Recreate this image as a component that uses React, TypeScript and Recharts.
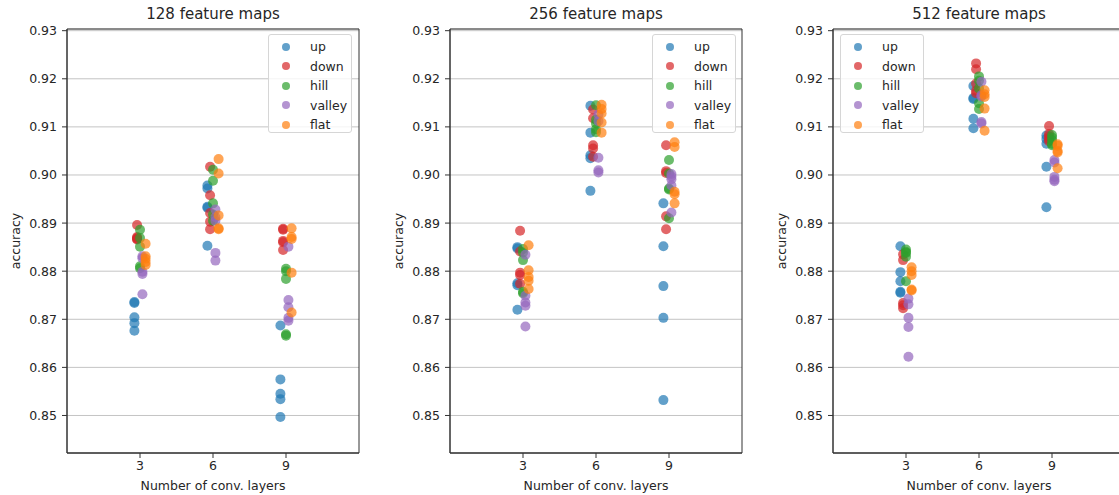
import { ScatterChart, Scatter, XAxis, YAxis, CartesianGrid, ReferenceArea, Legend } from "recharts";

const layers = [3, 6, 9];
const seriesNames = ["up", "down", "hill", "valley", "flat"];
const seriesColors = ["#1f77b4", "#d62728", "#2ca02c", "#9467bd", "#ff7f0e"];
const yTicks = [0.85, 0.86, 0.87, 0.88, 0.89, 0.9, 0.91, 0.92, 0.93];
const panelTitles = ["128 feature maps", "256 feature maps", "512 feature maps"];

// accuracy of each run, one inner list per number of conv. layers (3, 6, 9)
const up128 = [[0.8736, 0.8734, 0.8704, 0.8692, 0.8676], [0.8978, 0.8972, 0.8934, 0.8932, 0.8853], [0.8687, 0.8575, 0.8545, 0.8534, 0.8497]];
const down128 = [[0.8896, 0.8871, 0.8869, 0.8867, 0.8866], [0.9017, 0.8958, 0.8921, 0.8903, 0.8887], [0.8888, 0.8886, 0.8863, 0.886, 0.8844]];
const hill128 = [[0.8886, 0.8869, 0.8851, 0.881, 0.8806], [0.9011, 0.8988, 0.8941, 0.8918, 0.8905], [0.8805, 0.88, 0.8784, 0.8669, 0.8666]];
const valley128 = [[0.8831, 0.8827, 0.8799, 0.8794, 0.8752], [0.8928, 0.8912, 0.8905, 0.8838, 0.8822], [0.8851, 0.874, 0.8725, 0.8703, 0.8697]];
const flat128 = [[0.8857, 0.8831, 0.8826, 0.8819, 0.8813], [0.9033, 0.9003, 0.8916, 0.8889, 0.8887], [0.8889, 0.8871, 0.8867, 0.8797, 0.8714]];

const up256 = [[0.885, 0.8847, 0.8775, 0.8771, 0.872], [0.9144, 0.9088, 0.9041, 0.9035, 0.8967], [0.8941, 0.8852, 0.8769, 0.8703, 0.8532]];
const down256 = [[0.8884, 0.8841, 0.8797, 0.8792, 0.8774], [0.9136, 0.9118, 0.9062, 0.9055, 0.9038], [0.9062, 0.9008, 0.9004, 0.8914, 0.8887]];
const hill256 = [[0.8846, 0.8839, 0.8823, 0.8757, 0.8754], [0.9145, 0.9115, 0.9107, 0.9095, 0.9089], [0.9031, 0.9003, 0.8972, 0.897, 0.891]];
const valley256 = [[0.8834, 0.8749, 0.8735, 0.8728, 0.8685], [0.9126, 0.9112, 0.9036, 0.901, 0.9005], [0.9002, 0.8997, 0.8991, 0.8978, 0.8922]];
const flat256 = [[0.8854, 0.8802, 0.8788, 0.878, 0.8763], [0.9146, 0.9137, 0.9128, 0.9109, 0.9088], [0.9068, 0.9058, 0.8965, 0.896, 0.8941]];

const up512 = [[0.8852, 0.8798, 0.8779, 0.8757, 0.8755], [0.9185, 0.916, 0.9158, 0.9117, 0.9097], [0.9082, 0.9075, 0.9065, 0.9017, 0.8933]];
const down512 = [[0.8835, 0.8823, 0.8734, 0.8729, 0.8723], [0.9232, 0.922, 0.919, 0.9175, 0.917], [0.9102, 0.9085, 0.908, 0.9075, 0.907]];
const hill512 = [[0.8845, 0.884, 0.8838, 0.883, 0.8779], [0.9205, 0.9196, 0.918, 0.9149, 0.9137], [0.9083, 0.9078, 0.9072, 0.9065, 0.9062]];
const valley512 = [[0.8743, 0.8731, 0.8703, 0.8684, 0.8622], [0.9194, 0.9166, 0.9163, 0.911, 0.9107], [0.9031, 0.9026, 0.8996, 0.899, 0.8987]];
const flat512 = [[0.8808, 0.88, 0.8792, 0.8762, 0.876], [0.9176, 0.9168, 0.9162, 0.9138, 0.9092], [0.9064, 0.9061, 0.905, 0.9047, 0.9014]];

const panels = [
  [up128, down128, hill128, valley128, flat128],
  [up256, down256, hill256, valley256, flat256],
  [up512, down512, hill512, valley512, flat512],
];

// small sideways shift per series so the strips don't sit on top of each other
const dodge = [-0.23, -0.12, 0, 0.1, 0.23];

const X_DOMAIN: [number, number] = [0, 12];
const Y_DOMAIN: [number, number] = [0.8422, 0.93035];
const FONT = "DejaVu Sans";
const INK = "#262626";

function toPoints(values: number[][], s: number) {
  return values.flatMap((vals, i) => vals.map((acc) => ({ layer: layers[i] + dodge[s], acc })));
}

function YTitle({ viewBox }: any) {
  const x = (viewBox?.x ?? 0) + 15;
  const y = (viewBox?.y ?? 0) + (viewBox?.height ?? 0) / 2;
  return (
    <text x={x} y={y} transform={`rotate(-90 ${x} ${y})`} textAnchor="middle" dominantBaseline="central"
      fontSize={12.5} fontFamily={FONT} fill={INK}>
      accuracy
    </text>
  );
}

function XTitle({ viewBox }: any) {
  const x = (viewBox?.x ?? 0) + (viewBox?.width ?? 0) / 2;
  const y = (viewBox?.y ?? 0) + 32;
  return (
    <text x={x} y={y} textAnchor="middle" dominantBaseline="central" fontSize={12.5} fontFamily={FONT} fill={INK}>
      Number of conv. layers
    </text>
  );
}

function LegendBox() {
  return (
    <div style={{
      width: 84, height: 99, boxSizing: "border-box", border: "1px solid #d6d6d6", borderRadius: 3,
      background: "rgba(255,255,255,0.8)", paddingTop: 2, fontFamily: FONT, fontSize: 12.5, color: INK,
    }}>
      {seriesNames.map((name, s) => (
        <div key={name} style={{ position: "relative", height: 19.5, lineHeight: "19.5px" }}>
          <svg width={10} height={10} style={{ position: "absolute", left: 12, top: 4.75 }}>
            <circle cx={5} cy={5} r={4} fill={seriesColors[s]} fillOpacity={0.7} />
          </svg>
          <span style={{ position: "absolute", left: 41 }}>{name}</span>
        </div>
      ))}
    </div>
  );
}

function Panel({ idx, left, legendLeft }: { idx: number; left: number; legendLeft: number }) {
  const tick = { fontSize: 12.5, fill: INK, fontFamily: FONT };
  return (
    <div style={{ position: "absolute", left, top: 0, width: 370, height: 495 }}>
      <div style={{
        position: "absolute", left: 67, top: 5, width: 292, textAlign: "center",
        fontSize: 15, lineHeight: "18px", fontFamily: FONT, color: INK,
      }}>
        {panelTitles[idx]}
      </div>
      <ScatterChart width={370} height={495} margin={{ top: 29, right: 11, bottom: 0, left: 0 }}>
        <CartesianGrid vertical={false} stroke="#c4c4c4" />
        <XAxis dataKey="layer" type="number" domain={X_DOMAIN} ticks={layers} allowDataOverflow
          height={42} tick={tick} tickSize={5} tickMargin={3}
          axisLine={{ stroke: "#333" }} tickLine={{ stroke: "#333" }} label={<XTitle />} />
        <YAxis dataKey="acc" type="number" domain={Y_DOMAIN} ticks={yTicks} allowDataOverflow
          width={67} tick={tick} tickSize={5} tickMargin={5} tickFormatter={(v: number) => v.toFixed(2)}
          axisLine={{ stroke: "#333" }} tickLine={{ stroke: "#333" }} label={<YTitle />} />
        <ReferenceArea x1={X_DOMAIN[0]} x2={X_DOMAIN[1]} y1={Y_DOMAIN[0]} y2={Y_DOMAIN[1]}
          fill="none" fillOpacity={0} stroke="#333" strokeOpacity={1} />
        {panels[idx].map((vals, s) => (
          <Scatter key={seriesNames[s]} name={seriesNames[s]} data={toPoints(vals, s)} fill={seriesColors[s]}
            isAnimationActive={false}
            shape={(p: any) => <circle cx={p.cx} cy={p.cy} r={5} fill={seriesColors[s]} fillOpacity={0.7} />} />
        ))}
        <Legend layout="vertical" verticalAlign="middle" align="center" content={() => <LegendBox />}
          wrapperStyle={{ left: legendLeft, top: 34, width: 84, height: 99 }} />
      </ScatterChart>
    </div>
  );
}

export default function App() {
  return (
    <div style={{ position: "absolute", left: 0, top: 0, width: 1119, height: 495, overflow: "hidden", background: "#fff" }}>
      <Panel idx={0} left={0} legendLeft={268} />
      <Panel idx={1} left={383} legendLeft={269} />
      <Panel idx={2} left={766} legendLeft={74} />
    </div>
  );
}
